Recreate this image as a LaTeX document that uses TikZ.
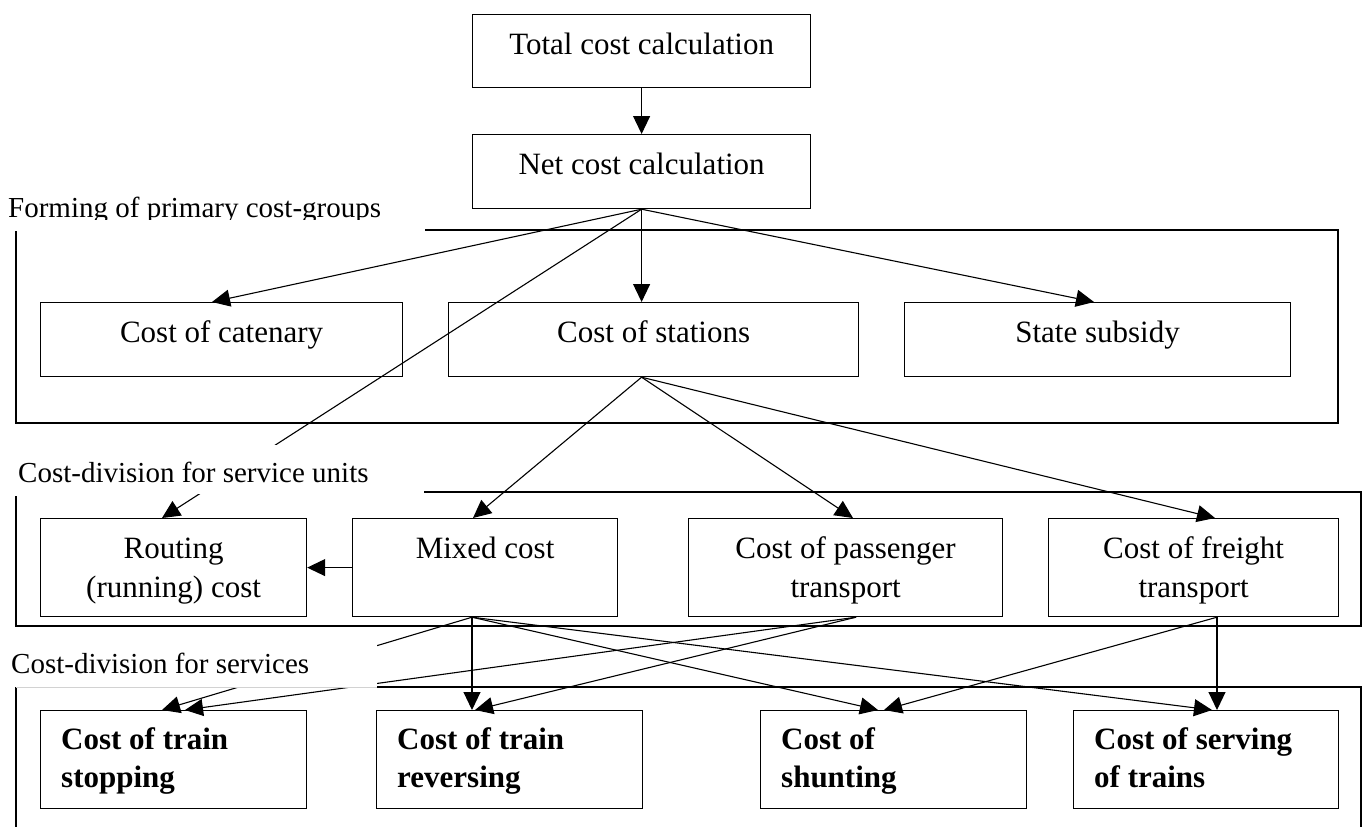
\documentclass[tikz,border=0pt]{standalone}
\usepackage{fontspec}
\setmainfont{Liberation Serif}
\usetikzlibrary{arrows.meta,calc}
\tikzset{
  box/.style={draw, line width=1.2pt, anchor=north west, inner sep=0pt},
  txt/.style={font=\fontsize{31}{36}\selectfont, inner sep=0pt, anchor=base},
  btxt/.style={font=\fontsize{31}{36}\selectfont\bfseries, inner sep=0pt, anchor=base west},
  grp/.style={font=\fontsize{29}{34}\selectfont, inner sep=0pt, anchor=base west},
  arr/.style={line width=1.1pt, -{Triangle[length=18pt,width=17pt]}},
  framel/.style={line width=1.2pt},
  cover/.style={fill=white, inner sep=0pt, anchor=north west},
}
\begin{document}
\begin{tikzpicture}[x=1pt,y=-1pt]
\useasboundingbox (0,0) rectangle (1365,827);
% frames
\draw[framel] (425,230) -- (1338,230) -- (1338,423) -- (16,423) -- (16,231);
\draw[framel] (424,492) -- (1361,492) -- (1361,626) -- (16,626) -- (16,496);
\draw[framel] (376,687) -- (1361,687) -- (1361,830);
\draw[framel] (16,687) -- (16,830);
% boxes
\node[box,minimum width=338pt,minimum height=73pt] (total) at (472,14) {};
\node[box,minimum width=338pt,minimum height=74pt] (net) at (472,134) {};
\node[box,minimum width=362pt,minimum height=74pt] (cat) at (40,302) {};
\node[box,minimum width=410pt,minimum height=74pt] (stat) at (448,302) {};
\node[box,minimum width=386pt,minimum height=74pt] (subs) at (904,302) {};
\node[box,minimum width=266pt,minimum height=98pt] (rout) at (40,518) {};
\node[box,minimum width=265pt,minimum height=98pt] (mixed) at (352,518) {};
\node[box,minimum width=314pt,minimum height=98pt] (pass) at (688,518) {};
\node[box,minimum width=290pt,minimum height=98pt] (frei) at (1048,518) {};
\node[box,minimum width=266pt,minimum height=98pt] (stop) at (40,710) {};
\node[box,minimum width=266pt,minimum height=98pt] (rev) at (376,710) {};
\node[box,minimum width=266pt,minimum height=98pt] (shunt) at (760,710) {};
\node[box,minimum width=265pt,minimum height=98pt] (serv) at (1073,710) {};
% texts
\node[txt] (tTotal) at ([yshift=-40pt]total.north) {Total cost calculation};
\node[txt] (tNet) at ([yshift=-40pt]net.north) {Net cost calculation};
\node[txt] (tCat) at ([yshift=-40pt]cat.north) {Cost of catenary};
\node[txt] (tStat) at ([yshift=-40pt]stat.north) {Cost of stations};
\node[txt] (tSubs) at ([yshift=-40pt]subs.north) {State subsidy};
\node[txt] (tRout1) at ([yshift=-40pt]rout.north) {Routing};
\node[txt] (tRout2) at ([yshift=-79pt]rout.north) {(running) cost};
\node[txt] (tMixed) at ([yshift=-40pt]mixed.north) {Mixed cost};
\node[txt] (tPass1) at ([yshift=-40pt]pass.north) {Cost of passenger};
\node[txt] (tPass2) at ([yshift=-79pt]pass.north) {transport};
\node[txt] (tFrei1) at ([yshift=-40pt]frei.north) {Cost of freight};
\node[txt] (tFrei2) at ([yshift=-79pt]frei.north) {transport};
\node[btxt] (tStop1) at ([xshift=21pt,yshift=-39pt]stop.north west) {Cost of train};
\node[btxt] (tStop2) at ([xshift=21pt,yshift=-77pt]stop.north west) {stopping};
\node[btxt] (tRev1) at ([xshift=21pt,yshift=-39pt]rev.north west) {Cost of train};
\node[btxt] (tRev2) at ([xshift=21pt,yshift=-77pt]rev.north west) {reversing};
\node[btxt] (tShunt1) at ([xshift=21pt,yshift=-39pt]shunt.north west) {Cost of};
\node[btxt] (tShunt2) at ([xshift=21pt,yshift=-77pt]shunt.north west) {shunting};
\node[btxt] (tServ1) at ([xshift=21pt,yshift=-39pt]serv.north west) {Cost of serving};
\node[btxt] (tServ2) at ([xshift=21pt,yshift=-77pt]serv.north west) {of trains};
% fan points
\coordinate (sf) at (stat.south -| net.south);
\coordinate (mf) at ([xshift=120pt]mixed.south west);
\coordinate (pf) at ([xshift=168pt]pass.south west);
\coordinate (ff) at ([xshift=169pt]frei.south west);
% connectors
\draw[arr] (total.south) -- (net.north);
\draw[arr] (net.south) -- ([xshift=172pt]cat.north west);
\draw[arr] (net.south) -- (stat.north -| net.south);
\draw[arr] (net.south) -- ([xshift=190pt]subs.north west);
\draw[arr] (net.south) -- ([xshift=122pt]rout.north west);
\draw[arr] (sf) -- ([xshift=121pt]mixed.north west);
\draw[arr] (sf) -- ([xshift=165pt]pass.north west);
\draw[arr] (sf) -- ([xshift=167pt]frei.north west);
\draw[arr] (mixed.west) -- (rout.east);
\draw[arr] (mf) -- ([xshift=122pt]stop.north west);
\draw[arr] (mf) -- ([xshift=96pt]rev.north west);
\draw[arr] (mf) -- ([xshift=118pt]shunt.north west);
\draw[arr] (mf) -- ([xshift=139pt]serv.north west);
\draw[arr] (pf) -- ([xshift=145pt]stop.north west);
\draw[arr] (pf) -- ([xshift=99pt]rev.north west);
\draw[arr] (ff) -- ([xshift=124pt]shunt.north west);
\draw[arr] (ff) -- (serv.north -| ff);
% group labels
\begin{scope}
  \clip (0,180) rectangle (424,219.5);
  \node[grp] (g1) at (8,217) {Forming of primary cost-groups};
\end{scope}
\node[cover,minimum width=424pt,minimum height=49pt] (c2) at (0,445) {};
\node[grp] (g2) at (18,482) {Cost-division for service units};
\node[cover,minimum width=377pt,minimum height=47pt] (c3) at (0,640) {};
\node[grp] (g3) at (11,673) {Cost-division for services};
\draw[gray!35, line width=0.8pt] (16,687) -- (377,687);
\end{tikzpicture}
\end{document}
